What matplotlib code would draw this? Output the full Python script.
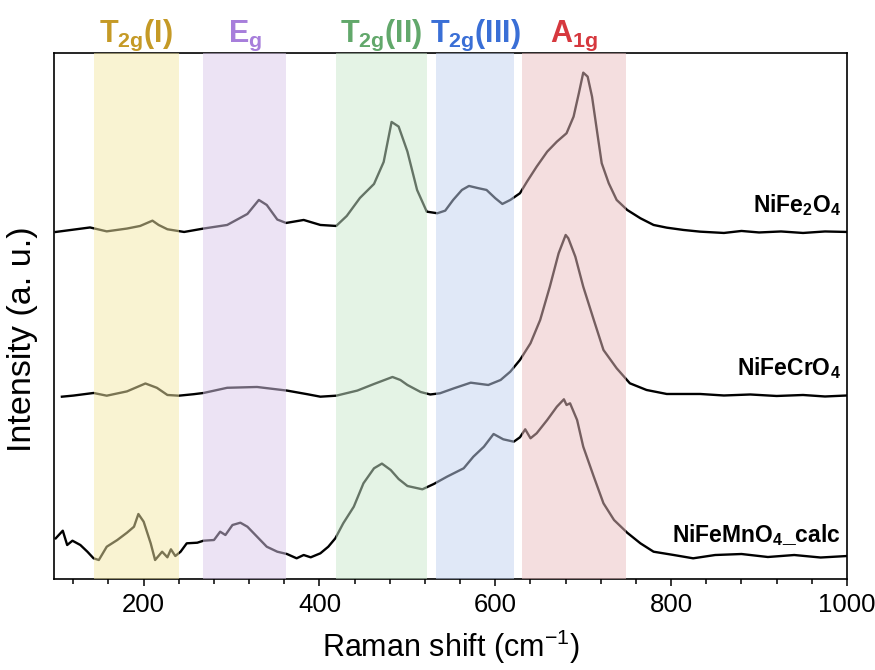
import matplotlib
matplotlib.use("Agg")
import matplotlib.pyplot as plt
import matplotlib.transforms as mtransforms
from matplotlib.ticker import MultipleLocator, NullLocator

plt.rcParams['font.family'] = ['Liberation Sans', 'DejaVu Sans']
plt.rcParams['mathtext.fontset'] = 'custom'
plt.rcParams['mathtext.rm'] = 'Liberation Sans'
plt.rcParams['mathtext.bf'] = 'Liberation Sans:bold'
plt.rcParams['mathtext.it'] = 'Liberation Sans:italic'

# Raman spectra (intensity in arbitrary units, offset stacked)
shift_fe2 = [100, 139, 158, 181, 196, 210, 217, 227, 246, 268, 295, 318, 331, 340, 352, 362,
             382, 401, 419, 431, 446, 462, 473, 482, 490, 500, 511, 522, 534, 543, 552, 562,
             570, 581, 590, 600, 608, 617, 628, 636, 647, 659, 670, 681, 689, 695, 700, 705,
             710, 716, 721, 729, 738, 750, 765, 780, 795, 814, 833, 860, 880, 900, 925, 950,
             975, 1000]
int_fe2 = [347, 351.5, 347.6, 350.4, 353, 358.3, 354, 349.7, 347, 350.4, 354, 365, 379, 374,
           359.4, 356, 359, 354, 353, 363, 381, 395, 417, 457, 452.4, 427.4, 389, 367.3,
           365.7, 368.3, 379, 389, 393, 390.7, 389, 380.7, 375, 379, 385.7, 397.3, 412.3,
           427.3, 437.3, 445.7, 462.3, 485.7, 506.3, 502.3, 482.3, 445.7, 415.7, 395.7, 379,
           369, 360.7, 354, 351.3, 349, 347.3, 346, 348, 346.5, 347.5, 346, 347.5, 347]

shift_cr = [107, 120, 143, 158, 181, 202, 215, 227, 240, 257, 268, 295, 329, 363, 386, 401,
            419, 443, 462, 483, 492, 500, 515, 526, 537, 553, 572, 592, 606, 617, 628, 640,
            651, 662, 672, 680, 683, 691, 700, 712, 723, 738, 753, 772, 795, 833, 860, 890,
            920, 950, 975, 1000]
int_cr = [182.3, 183.4, 186, 183.3, 187.6, 195.5, 191.2, 184, 183.3, 184.8, 186, 191.2, 192,
          188.4, 184.8, 182.3, 183.3, 188.4, 195, 202, 199, 194, 187, 184.5, 185.7, 190.7,
          196.3, 194, 199, 207.3, 219, 235.7, 259, 292.3, 325.7, 344, 340.7, 322.3, 292.3,
          259, 229, 210.7, 195.7, 189, 185, 185, 183.5, 184.5, 183, 184, 182.5, 183.5]

shift_mn = [100, 108, 113, 119, 128, 136, 143, 149, 158, 170, 181, 189, 194, 200, 208, 213,
            221, 227, 231, 236, 242, 249, 261, 268, 280, 287, 293, 301, 310, 318, 329, 340,
            352, 363, 374, 382, 390, 401, 410, 418, 427, 439, 450, 462, 471, 481, 490, 500,
            517, 530, 545, 564, 575, 587, 598, 609, 621, 628, 634, 640, 647, 659, 670, 678,
            681, 685, 693, 700, 712, 723, 735, 750, 765, 780, 803, 825, 850, 880, 910, 940,
            970, 1000]
int_mn = [40.7, 48.3, 34, 38.3, 34, 27.3, 20.7, 19, 32.3, 39, 46.3, 52.3, 65, 57.3, 35.7, 19,
          27.3, 21.7, 29.7, 23, 27.3, 35.7, 36.3, 38.3, 39, 47.3, 44, 54, 56.3, 52.3, 42.3,
          32.3, 27.3, 25, 20.7, 24, 21.7, 25.7, 32.3, 40.7, 55.7, 72.3, 95.7, 110.7, 115.4,
          109, 100, 93, 89.7, 95, 102.3, 110.7, 122.3, 132.3, 145, 139.7, 137.3, 141.7, 149.7,
          140.7, 145.7, 159, 172.3, 179.7, 174, 175.7, 159, 132.3, 102.3, 75.7, 59, 46.3,
          35.7, 27.3, 24, 20.7, 24, 25, 22, 24, 21.5, 23]

# Raman mode regions
mode_labels = [r'T$_{\mathbf{2g}}$(I)', r'E$_{\mathbf{g}}$', r'T$_{\mathbf{2g}}$(II)',
               r'T$_{\mathbf{2g}}$(III)', r'A$_{\mathbf{1g}}$']
mode_ranges = [(143, 240), (268, 362), (419, 522), (533, 621), (630, 749)]
span_colors = ['#f5e9a7', '#dbc9eb', '#cbe9cd', '#c3d3f1', '#ebbfc1']
label_colors = ['#c59a26', '#a77edb', '#62a86b', '#3a6fd6', '#d6383e']

sample_names = [r'NiFe$_{\mathbf{2}}$O$_{\mathbf{4}}$', r'NiFeCrO$_{\mathbf{4}}$',
                r'NiFeMnO$_{\mathbf{4}}$_calc']
name_y = [367, 204, 37]

fig = plt.figure(figsize=(8.75, 6.7), dpi=100)
ax = fig.add_axes([0.0617, 0.1358, 0.9063, 0.7852])

for xs, ys in [(shift_fe2, int_fe2), (shift_cr, int_cr), (shift_mn, int_mn)]:
    ax.plot(xs, ys, color='black', lw=1.7, zorder=2)

trans = mtransforms.blended_transform_factory(ax.transData, ax.transAxes)
for (lo, hi), sc, lab, lc in zip(mode_ranges, span_colors, mode_labels, label_colors):
    ax.axvspan(lo, hi, color=sc, alpha=0.5, lw=0, zorder=3)
    ax.text((lo + hi) / 2, 1.021, lab, transform=trans, ha='center', va='baseline',
            color=lc, fontsize=22, fontweight='bold')

for name, yy in zip(sample_names, name_y):
    ax.text(993, yy, name, ha='right', va='baseline', fontsize=16.5, fontweight='bold',
            zorder=4)

ax.set_xlim(98, 1000)
ax.set_ylim(0, 526)
ax.xaxis.set_major_locator(MultipleLocator(200))
ax.xaxis.set_minor_locator(MultipleLocator(40))
ax.yaxis.set_major_locator(NullLocator())
ax.tick_params(axis='x', which='major', direction='out', length=5, width=1.1,
               labelsize=18.5, pad=5, top=False)
ax.tick_params(axis='x', which='minor', direction='out', length=3.5, width=1.1, top=False)
for sp in ax.spines.values():
    sp.set_linewidth(1.2)

ax.set_xlabel(r'Raman shift (cm$^{\mathrm{-1}}$)', fontsize=22, labelpad=8)
ax.set_ylabel('Intensity (a. u.)', fontsize=24.5)
ax.yaxis.set_label_coords(-0.02, 0.456)

fig.savefig('out.png', dpi=100)
